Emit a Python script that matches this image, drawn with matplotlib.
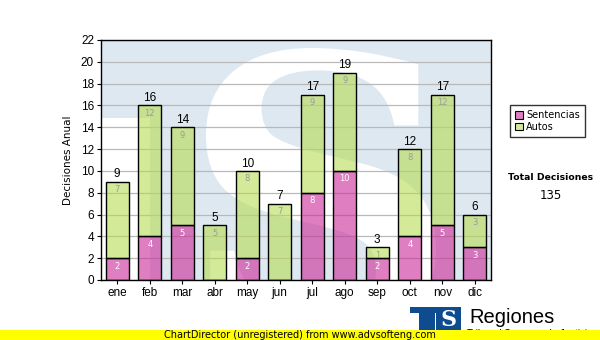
import matplotlib
matplotlib.use("Agg")
import matplotlib.pyplot as plt
from matplotlib.patches import Rectangle, PathPatch, Patch
from matplotlib.textpath import TextPath
from matplotlib.font_manager import FontProperties
from matplotlib.transforms import Affine2D
from matplotlib.colors import to_rgba

# ---- data ----
months = ["ene", "feb", "mar", "abr", "may", "jun",
          "jul", "ago", "sep", "oct", "nov", "dic"]
sentencias = [2, 4, 5, 0, 2, 0, 8, 10, 2, 4, 5, 3]
autos = [7, 12, 9, 5, 8, 7, 9, 9, 1, 8, 12, 3]
y_ticks = list(range(0, 23, 2))
series_names = ["Sentencias", "Autos"]

W, H = 600, 340
PINK = "#cb2896"
GREEN = "#b7dc53"
BAR_ALPHA = 0.6
WM_BLUE = "#dee8f1"
LOGO_BLUE = "#0f4b8f"

fig = plt.figure(figsize=(W / 100, H / 100), dpi=100)
fig.patch.set_facecolor("white")

# pixel helper: (x from left, y from top) -> figure coordinates
px = Affine2D().scale(1 / W, 1 / H) + fig.transFigure


def pbox(x0, y0, x1, y1):
    return (x0, H - y1), x1 - x0, y1 - y0


ax = fig.add_axes([101 / W, 60 / H, 390 / W, 240 / H])
ax.set_xlim(-0.5, len(months) - 0.5)
ax.set_ylim(0, 22)

# ---- background watermark (large logo, clipped to plot area) ----
for (x0, y0, x1, y1) in [(101, 40, 212, 118), (150, 40, 200, 280), (200, 40, 491, 280)]:
    xy, w, h = pbox(x0, y0, x1, y1)
    r = Rectangle(xy, w, h, transform=px, fc=WM_BLUE, ec="none", zorder=0.1)
    ax.add_artist(r)
    r.set_clip_path(ax.patch)

tp = TextPath((0, 0), "S", size=100,
              prop=FontProperties(family="DejaVu Serif", weight="bold"))
ext = tp.get_extents()
sx0, sx1, sy_top, sy_bot = 206, 436, 48, 335
glyph_tf = (Affine2D().translate(-ext.x0, -ext.y0)
            .scale((sx1 - sx0) / ext.width, (sy_bot - sy_top) / ext.height)
            .translate(sx0, H - sy_bot))
s_patch = PathPatch(glyph_tf.transform_path(tp), transform=px,
                    fc="white", ec="none", zorder=0.2)
ax.add_artist(s_patch)
s_patch.set_clip_path(ax.patch)

# ---- grid ----
ax.set_axisbelow(True)
ax.yaxis.grid(True, color="#b9b9b9", lw=0.9)
ax.xaxis.grid(False)

# ---- stacked bars ----
x = list(range(len(months)))
bw = 0.71
ax.bar(x, sentencias, width=bw, fc=to_rgba(PINK, BAR_ALPHA), ec="black", lw=1.0, zorder=2)
ax.bar(x, autos, width=bw, bottom=sentencias, fc=to_rgba(GREEN, BAR_ALPHA),
       ec="black", lw=1.0, zorder=2)

for i in x:
    s, a = sentencias[i], autos[i]
    total = s + a
    ax.annotate(str(total), (i, total), xytext=(0, 1), textcoords="offset points",
                ha="center", va="bottom", fontsize=8.5, color="black",
                family="Liberation Sans", zorder=3)
    if a > 0:
        ax.annotate(str(a), (i, total), xytext=(0, -2.5), textcoords="offset points",
                    ha="center", va="top", fontsize=6, color="#9a9a9a",
                    family="DejaVu Sans", zorder=3)
    if s > 0:
        ax.annotate(str(s), (i, s), xytext=(0, -2.5), textcoords="offset points",
                    ha="center", va="top", fontsize=6, color="white",
                    family="DejaVu Sans", zorder=3)

# ---- axes styling ----
ax.set_xticks(x)
ax.set_xticklabels(months)
ax.set_yticks(y_ticks)
ax.tick_params(axis="both", direction="out", length=3, width=0.8, color="black",
               labelsize=8.5, pad=2)
for lab in ax.get_xticklabels() + ax.get_yticklabels():
    lab.set_family("Liberation Sans")
for sp in ax.spines.values():
    sp.set_color("black")
    sp.set_linewidth(1.0)
    sp.set_zorder(4)
ax.set_ylabel("Decisiones Anual", fontsize=7.5, family="DejaVu Sans")
ax.yaxis.set_label_coords(-0.072, 0.5)

# ---- legend ----
handles = [Patch(fc=to_rgba(PINK, BAR_ALPHA), ec="black", lw=0.8),
           Patch(fc=to_rgba(GREEN, BAR_ALPHA), ec="black", lw=0.8)]
leg = fig.legend(handles, series_names, loc="upper left",
                 bbox_to_anchor=(510 / W, 1 - 105 / H), frameon=True,
                 fancybox=False, edgecolor="black", borderaxespad=0,
                 prop={"family": "DejaVu Sans", "size": 7},
                 handlelength=0.75, handleheight=0.75, handletextpad=0.35,
                 labelspacing=0.15, borderpad=0.55)
leg.get_frame().set_linewidth(1.0)

# ---- total ----
fig.text(551 / W, 1 - 178 / H, "Total Decisiones", ha="center", va="center",
         fontsize=6.7, weight="bold", family="DejaVu Sans")
fig.text(551 / W, 1 - 196 / H, str(sum(sentencias) + sum(autos)), ha="center",
         va="center", fontsize=8.5, family="DejaVu Sans")

# ---- logo ----
for (x0, y0, x1, y1) in [(410, 307, 461, 313), (419, 307, 435, 331), (436, 307, 461, 331)]:
    xy, w, h = pbox(x0, y0, x1, y1)
    fig.add_artist(Rectangle(xy, w, h, transform=px, fc=LOGO_BLUE, ec="none", zorder=1))
fig.text(448.5 / W, 1 - 320 / H, "S", ha="center", va="center", color="white",
         fontsize=16, weight="bold", family="DejaVu Serif", zorder=2)
fig.text(469 / W, 1 - 323 / H, "Regiones", ha="left", va="baseline",
         fontsize=14.5, family="Liberation Sans", zorder=2)
fig.text(467 / W, 1 - 337 / H, "Tribunal Supremo de Justicia", ha="left",
         va="baseline", fontsize=7, family="Liberation Sans", zorder=1)

# ---- footer band ----
xy, w, h = pbox(0, 330, 600, 340)
fig.add_artist(Rectangle(xy, w, h, transform=px, fc="#ffff00", ec="none", zorder=5))
fig.text(300 / W, 1 - 335 / H, "ChartDirector (unregistered) from www.advsofteng.com",
         ha="center", va="center", fontsize=7,
         family=["Liberation Sans Narrow", "DejaVu Sans"], zorder=6)

fig.savefig("out.png", dpi=100)
